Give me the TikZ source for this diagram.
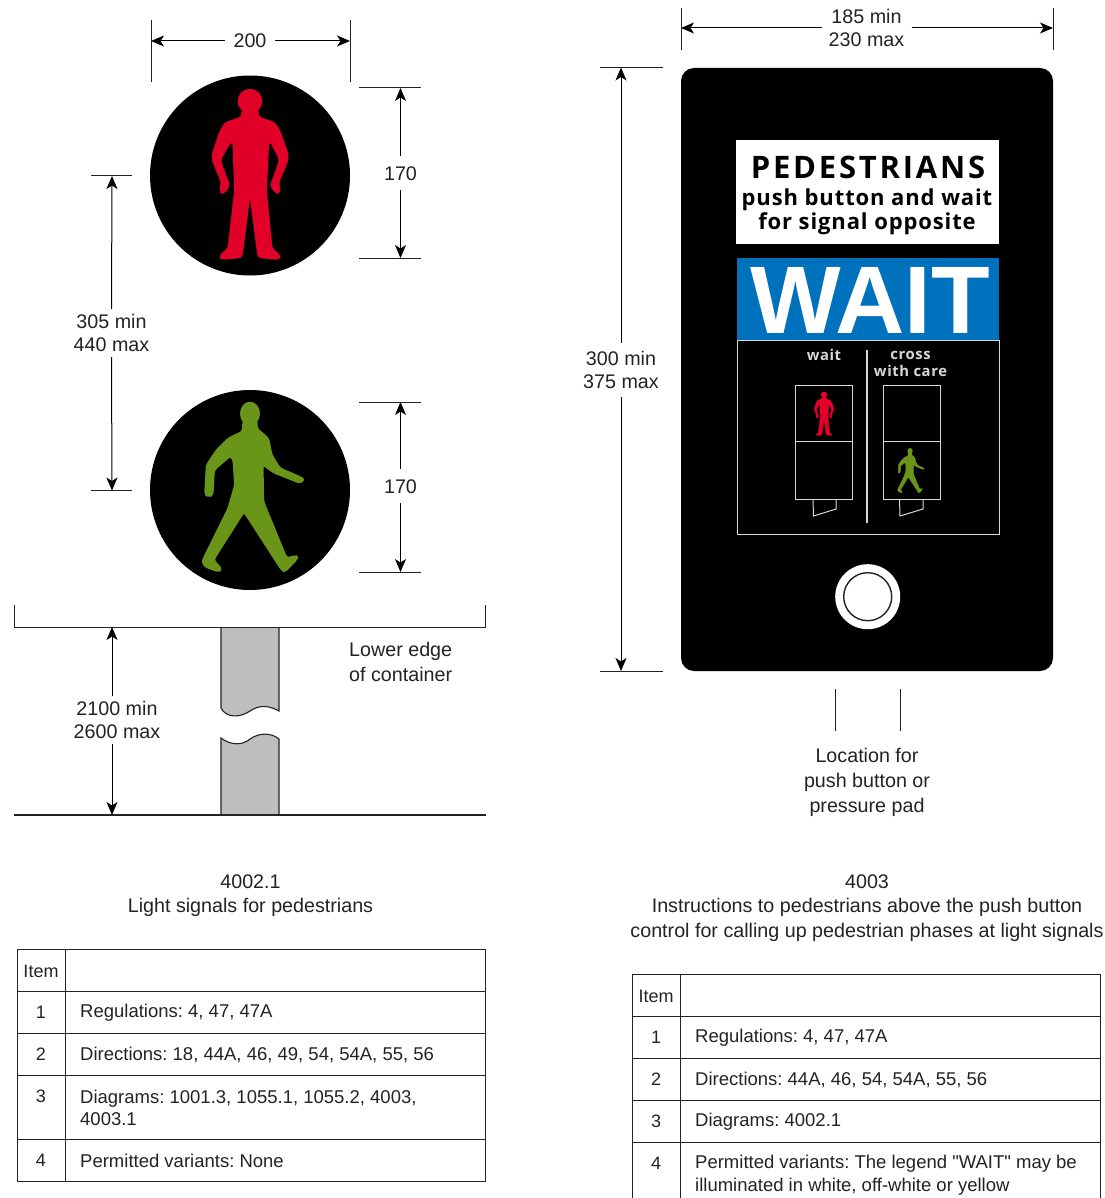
\documentclass[tikz,border=0pt]{standalone}
\usetikzlibrary{arrows.meta}
\usepackage{fontspec}
\setmainfont{Liberation Sans}
\newfontfamily\plainq{Liberation Sans}
\newfontfamily\signfont[LetterSpace=4]{Open Sans}
\newfontfamily\pedfont[LetterSpace=9]{Open Sans}
\newfontfamily\waitfont{Liberation Sans}
\definecolor{sigred}{RGB}{225,0,40}
\definecolor{siggreen}{RGB}{105,150,25}
\definecolor{sigblue}{RGB}{0,113,188}
\definecolor{inkc}{RGB}{35,35,35}
\definecolor{polec}{RGB}{190,190,190}
\definecolor{panelline}{RGB}{215,215,215}
\newcommand{\redman}[4]{%
 \begin{scope}[shift={(#1,#2)},x=#3pt,y=-#3pt,shift={(-330,-#4)}]
 \fill[sigred] (330,92) circle[x radius=37,y radius=37];
 \filldraw[sigred,line width=#3*5pt,line join=round,rounded corners=#3*9pt] (308,115)--(305,140)--(255,158)--(240,185)--(218,250)--(218,270)--(245,335)--(240,362)--(250,370)--(268,345)--(258,320)--(240,268)--(272,212)--(280,215)--(285,360)--(265,535)--(240,555)--(245,566)--(305,560)--(330,365)--(355,560)--(415,566)--(420,555)--(395,535)--(378,360)--(385,215)--(392,212)--(420,268)--(402,320)--(392,345)--(410,370)--(420,362)--(415,335)--(443,270)--(443,250)--(420,185)--(405,158)--(355,140)--(352,115)--cycle;
 \end{scope}}
\newcommand{\greenman}[4]{%
 \begin{scope}[shift={(#1,#2)},x=#3pt,y=-#3pt,shift={(-330,-#4)}]
 \fill[siggreen] (330,86) circle[x radius=30,y radius=36];
 \filldraw[siggreen,line width=#3*5pt,line join=round,rounded corners=#3*9pt] (310,105)--(308,140)--(265,160)--(230,195)--(200,240)--(195,328)--(205,335)--(218,330)--(222,255)--(272,212)--(280,225)--(285,300)--(265,370)--(186,530)--(195,545)--(235,560)--(245,552)--(220,525)--(312,380)--(425,555)--(435,560)--(473,520)--(468,512)--(440,520)--(370,350)--(368,238)--(400,262)--(480,294)--(491,285)--(485,278)--(420,250)--(395,210)--(385,160)--(350,130)--(350,105)--cycle;
 \end{scope}}
\tikzset{
 extl/.style={draw=inkc,line width=1pt},
 dimar/.style={draw=black,line width=1pt,-{Stealth[length=13pt,width=11pt,inset=3.5pt]}},
 lbl/.style={inner sep=0pt,align=center,font=\fontsize{19.7}{23}\selectfont\frenchspacing,text=inkc},
 tline/.style={draw=inkc,line width=0.6pt},
 celltxt/.style={inner sep=0pt,anchor=west,align=left,font=\fontsize{18.5}{22.5}\selectfont\frenchspacing,text=inkc},
 cnum/.style={inner sep=0pt,font=\fontsize{18}{21}\selectfont,text=inkc},
 captxt/.style={lbl,font=\fontsize{19.7}{24.6}\selectfont},
 signtext/.style={inner sep=0pt,text=black},
 smalltext/.style={inner sep=0pt,align=center,text=panelline,font=\fontsize{14.8}{17.5}\signfont\bfseries},
 wline/.style={draw=panelline,line width=1pt},
}
\begin{document}
\begin{tikzpicture}[x=1pt,y=-1pt]
\useasboundingbox[fill=white] (0,0) rectangle (1104,1198);
% LEFT signals
\node[circle,fill=black,minimum size=200pt,inner sep=0pt] (c1) at (250,175.5) {};
\node[circle,fill=black,minimum size=200pt,inner sep=0pt] (c2) at (250,490) {};
\redman{250}{175.5}{0.3333}{315}
\greenman{250}{490}{0.3333}{315}
% dim 200
\coordinate (e1a) at (151,20); \coordinate (e1b) at (151,82);
\coordinate (e2a) at (350,20); \coordinate (e2b) at (350,82);
\draw[extl] (e1a)--(e1b); \draw[extl] (e2a)--(e2b);
\coordinate (d1l) at (151,41); \coordinate (d1r) at (350,41);
\node[lbl] (l200) at (250,41) {200};
\draw[dimar] ([xshift=-25pt]l200.center)--(d1l);
\draw[dimar] ([xshift=25pt]l200.center)--(d1r);
% dim 170 a
\coordinate (a1) at (359,88); \coordinate (a2) at (421,88); \coordinate (a3) at (359,258); \coordinate (a4) at (421,258);
\draw[extl] (a1)--(a2); \draw[extl] (a3)--(a4);
\coordinate (a5) at (400.5,88); \coordinate (a6) at (400.5,258);
\node[lbl] (l170a) at (400.5,174) {170};
\draw[dimar] ([yshift=18pt]l170a.center)--(a5);
\draw[dimar] ([yshift=-16pt]l170a.center)--(a6);
% dim 170 b
\coordinate (b1) at (359,402); \coordinate (b2) at (421,402); \coordinate (b3) at (359,572); \coordinate (b4) at (421,572);
\draw[extl] (b1)--(b2); \draw[extl] (b3)--(b4);
\coordinate (b5) at (400.5,402); \coordinate (b6) at (400.5,572);
\node[lbl] (l170b) at (400.5,487) {170};
\draw[dimar] ([yshift=18pt]l170b.center)--(b5);
\draw[dimar] ([yshift=-16pt]l170b.center)--(b6);
% dim 305
\coordinate (f1) at (91,176); \coordinate (f2) at (132,176); \coordinate (f3) at (91,490.5); \coordinate (f4) at (132,490.5);
\draw[extl] (f1)--(f2); \draw[extl] (f3)--(f4);
\coordinate (f5) at (112,176); \coordinate (f6) at (112,490.5);
\node[lbl] (l305) at (111.5,333) {305 min\\440 max};
\draw[dimar] ([yshift=24pt]l305.center)--(f5);
\draw[dimar] ([yshift=-24pt]l305.center)--(f6);
% pole
\fill[polec] (221,627)--(221,708) .. controls (226,718) and (240,718) .. (250,711) .. controls (260,704) and (270,706) .. (279,711)--(279,627)--cycle;
\draw[draw=inkc,line width=1.1pt] (221,627)--(221,708) .. controls (226,718) and (240,718) .. (250,711) .. controls (260,704) and (270,706) .. (279,711)--(279,627);
\fill[polec] (221,738) .. controls (230,745) and (242,746) .. (250,739) .. controls (260,732) and (272,733) .. (279,739)--(279,815)--(221,815)--cycle;
\draw[draw=inkc,line width=1.1pt] (221,815)--(221,738) .. controls (230,745) and (242,746) .. (250,739) .. controls (260,732) and (272,733) .. (279,739)--(279,815);
% bracket + ground
\coordinate (br1) at (14.5,605); \coordinate (br2) at (14.5,627); \coordinate (br3) at (485.5,627); \coordinate (br4) at (485.5,605);
\draw[extl] (br1)--(br2)--(br3)--(br4);
\coordinate (g1) at (14,815); \coordinate (g2) at (486,815);
\draw[draw=inkc,line width=1.2pt] (g1)--(g2);
\node[lbl,align=left,anchor=west,font=\fontsize{19.7}{25}\selectfont] (lower) at (349,661.5) {Lower edge\\of container};
% dim 2100
\coordinate (h1) at (112,627); \coordinate (h2) at (112,815);
\node[lbl] (l2100) at (117,720) {2100 min\\2600 max};
\draw[dimar] ([xshift=-5pt,yshift=24pt]l2100.center)--(h1);
\draw[dimar] ([xshift=-5pt,yshift=-24pt]l2100.center)--(h2);
% captions
\node[captxt] (capl) at (250.5,895.5) {4002.1\\Light signals for pedestrians};
\node[captxt] (capr) at (867,908) {4003\\Instructions to pedestrians above the push button\\control for calling up pedestrian phases at light signals};
% left table
\draw[tline] (17,949) rectangle (485,1181);
\foreach \yy in {991,1033,1075,1139} \draw[tline] (17,\yy)--(485,\yy);
\draw[tline] (65,949)--(65,1181);
\node[cnum] (li) at (41,971) {Item};
\node[cnum] (l1) at (41,1012.5) {1};
\node[celltxt] (t1) at (80,1013) {Regulations: 4, 47, 47A};
\node[cnum] (l2) at (41,1054.5) {2};
\node[celltxt] (t2) at (80,1055) {Directions: 18, 44A, 46, 49, 54, 54A, 55, 56};
\node[cnum] (l3) at (41,1096.5) {3};
\node[celltxt] (t3) at (80,1108) {Diagrams: 1001.3, 1055.1, 1055.2, 4003,\\4003.1};
\node[cnum] (l4) at (41,1160.5) {4};
\node[celltxt] (t4) at (80,1161) {Permitted variants: None};
% right table
\draw[tline] (632,1198)--(632,974)--(1100,974)--(1100,1198);
\foreach \yy in {1016,1058,1100,1142} \draw[tline] (632,\yy)--(1100,\yy);
\draw[tline] (680,974)--(680,1198);
\node[cnum] (ri) at (656,996) {Item};
\node[cnum] (r1) at (656,1037.5) {1};
\node[celltxt] (u1) at (695,1038) {Regulations: 4, 47, 47A};
\node[cnum] (r2) at (656,1079.5) {2};
\node[celltxt] (u2) at (695,1080) {Directions: 44A, 46, 54, 54A, 55, 56};
\node[cnum] (r3) at (656,1121.5) {3};
\node[celltxt] (u3) at (695,1122) {Diagrams: 4002.1};
\node[cnum] (r4) at (656,1163.5) {4};
\node[celltxt] (u4) at (695,1175) {Permitted variants: The legend {\plainq"}WAIT{\plainq"} may be\\illuminated in white, off-white or yellow};
% right sign
\fill[black,rounded corners=13pt] (681,68) rectangle (1053,671);
\fill[white] (736,140) rectangle (999,244);
\fill[sigblue] (737,258) rectangle (999,340);
\node[signtext,font=\fontsize{31}{31}\pedfont\bfseries] (ped) at (868,167.5) {PEDESTRIANS};
\node[signtext,font=\fontsize{22}{22}\signfont\bfseries] (pb) at (867,199.5) {push button and wait};
\node[signtext,font=\fontsize{22}{22}\signfont\bfseries] (fs) at (867,224) {for signal opposite};
\node[inner sep=0pt,text=white,text height=69pt,text depth=0pt,font=\fontsize{96}{96}\waitfont\bfseries] (wait) at (870,298.5) {WAIT};
\draw[wline] (737,340)--(737,534)--(999,534)--(999,340)--cycle;
\node[smalltext] (sw) at (824,355) {wait};
\node[smalltext] (sc) at (910.5,364) {cross\\with care};
\draw[draw=panelline,line width=1.2pt] (867,350)--(867,523);
\draw[wline] (795,385) rectangle (852,499); \draw[wline] (795,441)--(852,441);
\draw[wline] (883,385) rectangle (940,499); \draw[wline] (883,441)--(940,441);
\draw[wline] (813,499)--(813.5,516)--(836,509)--(836,499);
\draw[wline] (899.5,499)--(900,516)--(923,509)--(923,499);
\redman{824}{391.5}{0.0858}{55}
\greenman{910}{448}{0.0878}{50}
% button
\node[circle,fill=white,minimum size=65pt,inner sep=0pt] (btn) at (867.7,596.7) {};
\node[circle,draw=inkc,line width=1.4pt,minimum size=48pt,inner sep=0pt] (btn2) at (867.7,596.7) {};
% dims right
\coordinate (p1) at (681,8); \coordinate (p2) at (681,50); \coordinate (p3) at (1053,8); \coordinate (p4) at (1053,50);
\draw[extl] (p1)--(p2); \draw[extl] (p3)--(p4);
\coordinate (p5) at (681,28); \coordinate (p6) at (1053,28);
\node[lbl] (l185) at (866.5,28) {185 min\\230 max};
\draw[dimar] ([xshift=-45pt]l185.center)--(p5);
\draw[dimar] ([xshift=45pt]l185.center)--(p6);
\coordinate (q1) at (600,67.5); \coordinate (q2) at (663,67.5); \coordinate (q3) at (600,671); \coordinate (q4) at (663,671);
\draw[extl] (q1)--(q2); \draw[extl] (q3)--(q4);
\coordinate (q5) at (621,67.5); \coordinate (q6) at (621,671);
\node[lbl] (l300) at (621,369.5) {300 min\\375 max};
\draw[dimar] ([yshift=27pt]l300.center)--(q5);
\draw[dimar] ([yshift=-27pt]l300.center)--(q6);
% ticks
\coordinate (k1) at (835,689); \coordinate (k2) at (835,731); \coordinate (k3) at (900,689); \coordinate (k4) at (900,731);
\draw[extl] (k1)--(k2); \draw[extl] (k3)--(k4);
\node[lbl,font=\fontsize{19.7}{25}\selectfont] (loc) at (867,782.5) {Location for\\push button or\\pressure pad};
\end{tikzpicture}
\end{document}
